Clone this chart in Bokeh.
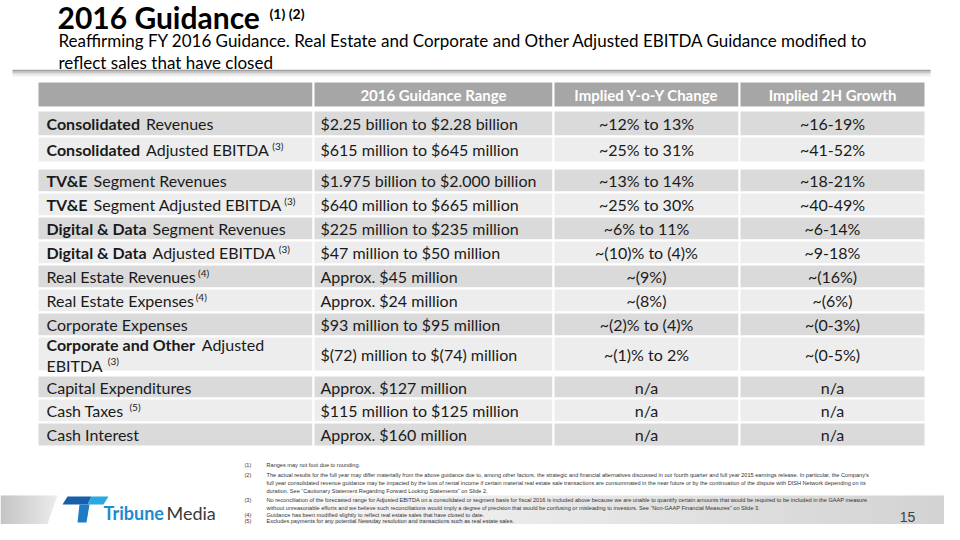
from bokeh.plotting import figure
from bokeh.models import Range1d
from bokeh.core.properties import value
from bokeh.embed import file_html
from bokeh.resources import INLINE

# ---------------- data ----------------
title = "2016 Guidance"
title_notes = "(1) (2)"
subtitle_lines = [
    "Reaffirming FY 2016 Guidance. Real Estate and Corporate and Other Adjusted EBITDA Guidance modified to",
    "reflect sales that have closed",
]
headers = ["2016 Guidance Range", "Implied Y-o-Y Change", "Implied 2H Growth"]
label_bold = ["Consolidated", "Consolidated", "TV&E", "TV&E", "Digital & Data", "Digital & Data",
              "", "", "", "Corporate and Other", "", "", ""]
label_rest = ["Revenues", "Adjusted EBITDA", "Segment Revenues", "Segment Adjusted EBITDA",
              "Segment Revenues", "Adjusted EBITDA", "Real Estate Revenues", "Real Estate Expenses",
              "Corporate Expenses", "Adjusted", "Capital Expenditures", "Cash Taxes", "Cash Interest"]
label_line2 = ["", "", "", "", "", "", "", "", "", "EBITDA", "", "", ""]
label_note = ["", "(3)", "", "(3)", "", "(3)", "(4)", "(4)", "", "(3)", "", "(5)", ""]
guidance_range = ["$2.25 billion to $2.28 billion", "$615 million to $645 million",
                  "$1.975 billion to $2.000 billion", "$640 million to $665 million",
                  "$225 million to $235 million", "$47 million to $50 million",
                  "Approx. $45 million", "Approx. $24 million", "$93 million to $95 million",
                  "$(72) million to $(74) million", "Approx. $127 million",
                  "$115 million to $125 million", "Approx. $160 million"]
yoy_change = ["~12% to 13%", "~25% to 31%", "~13% to 14%", "~25% to 30%", "~6% to 11%",
              "~(10)% to (4)%", "~(9%)", "~(8%)", "~(2)% to (4)%", "~(1)% to 2%", "n/a", "n/a", "n/a"]
growth_2h = ["~16-19%", "~41-52%", "~18-21%", "~40-49%", "~6-14%", "~9-18%", "~(16%)", "~(6%)",
             "~(0-3%)", "~(0-5%)", "n/a", "n/a", "n/a"]
footnote_ids = ["(1)", "(2)", "", "", "(3)", "", "(4)", "(5)"]
footnote_lines = [
    "Ranges may not foot due to rounding.",
    "The actual results for the full year may differ materially from the above guidance due to, among other factors, the strategic and financial alternatives discussed in our fourth quarter and full year 2015 earnings release.  In particular, the Company\u2019s",
    "full year consolidated revenue guidance may be impacted by the loss of rental income if certain material real estate sale transactions are consummated in the near future or by the continuation of the dispute with DISH Network depending on its",
    "duration.  See \u201cCautionary Statement Regarding Forward Looking Statements\u201d on Slide 2.",
    "No reconciliation of the forecasted range for Adjusted EBITDA on a consolidated or segment basis for fiscal 2016 is included above because we are unable to quantify certain amounts that would be required to be included in the GAAP measure",
    "without unreasonable efforts and we believe such reconciliations would imply a degree of precision that would be confusing or misleading to investors. See \u201cNon-GAAP Financial Measures\u201d on Slide 3.",
    "Guidance has been modified slightly to reflect real estate sales that have closed to date.",
    "Excludes payments for any potential Newsday resolution and transactions such as real estate sales.",
]
page_number = "15"
logo_words = ["Tribune", "Media"]

# ---------------- layout / style ----------------
FONT = "Lato"
COL_EDGES = [37, 313, 553, 739, 925]
HEADER_Y = (81, 107)
ROW_Y = [(110, 136), (136, 162), (168, 192), (192, 216), (216, 240), (240, 264), (264, 288),
         (288, 312), (312, 336), (336, 371), (375, 398), (398, 422), (422, 446)]
FN_Y = [464, 474.5, 482.5, 490.5, 499.5, 507.5, 514, 520]
DARK_ROW, LIGHT_ROW, HEAD = "#dadada", "#ededed", "#a6a6a6"
TXT = "#1a1a1a"

CW = {}
for chs, c in [("il.,:;'|!j", 0.23), ("I", 0.28), (" ", 0.2), ("f", 0.32), ("t", 0.36), ("r", 0.37),
               ("()-", 0.33), ("s", 0.41), ("cz", 0.45), ("eavxyk", 0.51), ("m", 0.82), ("w", 0.77),
               ("0123456789$~", 0.58), ("%", 0.8), ("E", 0.57), ("L", 0.5), ("F", 0.54), ("T", 0.58),
               ("S", 0.53), ("MW", 0.9), ("D", 0.74), ("O", 0.78), ("G", 0.72), ("C", 0.68),
               ("&", 0.7), ("A", 0.7), ("B", 0.65), ("R", 0.62), ("P", 0.6), ("V", 0.68), ("NH", 0.76)]:
    for ch in chs:
        CW[ch] = c


def tw(s, size, bold=False):
    w = sum(CW.get(ch, 0.65 if ch.isupper() else 0.55) for ch in s)
    return w * size * (1.04 if bold else 1.0)


p = figure(width=944, height=524, x_range=Range1d(0, 944), y_range=Range1d(524, 0),
           output_backend="svg", toolbar_location=None, min_border=0,
           x_axis_location=None, y_axis_location=None)
p.grid.visible = False
p.outline_line_color = None
p.background_fill_color = "white"
p.border_fill_color = "white"


# ---- bottom grey band (gradient strips) ----
def band(x0_top, x0_bot, x1, y0, y1, c0, c1, n=40):
    xs, ys, cols = [], [], []

    def hexc(t):
        r = [int(c0[i:i + 2], 16) * (1 - t) + int(c1[i:i + 2], 16) * t for i in (1, 3, 5)]
        return "#%02x%02x%02x" % tuple(int(v) for v in r)
    for k in range(n):
        a, b = k / n, (k + 1) / n
        xt0, xt1 = x0_top + (x1 - x0_top) * a, x0_top + (x1 - x0_top) * b
        xb0, xb1 = x0_bot + (x1 - x0_bot) * a, x0_bot + (x1 - x0_bot) * b
        xs.append([xt0, xt1 + 0.6, xb1 + 0.6, xb0])
        ys.append([y0, y0, y1, y1])
        cols.append(hexc((a + b) / 2))
    p.patches(xs, ys, fill_color=cols, line_color=None)


band(305, 289, 960, 495, 540, "#f7f7f7", "#d2d2d2", n=60)
band(0, 0, 57, 495, 540, "#c4c4c4", "#ededed", n=20)
p.patch([57, 60, 60, 41], [495, 495, 540, 540], fill_color="white", line_color=None)

# ---- title ----
p.text(x=[57], y=[16], text=[title], text_font=value(FONT), text_font_style="bold",
       text_font_size="30px", text_color="black", text_baseline="middle")
p.text(x=[269], y=[13], text=[title_notes], text_font=value(FONT),
       text_font_style="bold", text_font_size="14px", text_color="black", text_baseline="middle")
p.text(x=[58, 58], y=[40, 62], text=subtitle_lines, text_font=value(FONT),
       text_font_size="17px", text_color="black", text_baseline="middle")
# rule with shadow
for yy, cc, ww in [(75, "#f0f0f0", 2), (73, "#dcdcdc", 2), (71.5, "#bdbdbd", 1.5), (70, "#a0a0a0", 1.5)]:
    p.line([12, 930], [yy, yy], line_color=cc, line_width=ww)

# ---- table cells ----
L, R, T, B, C = [], [], [], [], []
for j in range(4):
    L.append(COL_EDGES[j]); R.append(COL_EDGES[j + 1]); T.append(HEADER_Y[0]); B.append(HEADER_Y[1]); C.append(HEAD)
for i, (y0, y1) in enumerate(ROW_Y):
    for j in range(4):
        L.append(COL_EDGES[j]); R.append(COL_EDGES[j + 1]); T.append(y0); B.append(y1)
        C.append(DARK_ROW if i % 2 == 0 else LIGHT_ROW)
p.quad(left=L, right=R, top=T, bottom=B, fill_color=C, line_color="white", line_width=2)

# header text
hx = [(COL_EDGES[j] + COL_EDGES[j + 1]) / 2 for j in (1, 2, 3)]
hy = (HEADER_Y[0] + HEADER_Y[1]) / 2
p.text(x=hx, y=[hy] * 3, text=headers, text_font=value(FONT), text_font_style="bold",
       text_font_size="15px", text_color="white", text_align="center", text_baseline="middle")

FS = 16
centers = [(a + b) / 2 for a, b in ROW_Y]
bx, by, bt = [], [], []
rx, ry, rt = [], [], []
sx, sy, st = [], [], []
x0 = COL_EDGES[0] + 9
for i in range(len(ROW_Y)):
    two = label_line2[i] != ""
    yl = centers[i] - 10 if two else centers[i]
    xcur = x0
    if label_bold[i]:
        bx.append(xcur); by.append(yl); bt.append(label_bold[i])
        xcur += tw(label_bold[i], FS, True) + 5
    rx.append(xcur); ry.append(yl); rt.append(label_rest[i])
    xcur += tw(label_rest[i], FS)
    if two:
        rx.append(x0); ry.append(centers[i] + 11); rt.append(label_line2[i])
        xcur = x0 + tw(label_line2[i], FS)
        yl = centers[i] + 11
    if label_note[i]:
        sx.append(xcur + 5); sy.append(yl - 4); st.append(label_note[i])

common = dict(text_font=value(FONT), text_font_size=f"{FS}px", text_color=TXT, text_baseline="middle")
p.text(x=bx, y=by, text=bt, text_font_style="bold", **common)
p.text(x=rx, y=ry, text=rt, **common)
p.text(x=sx, y=sy, text=st, text_font=value(FONT), text_font_size="10px", text_color=TXT,
       text_baseline="middle")
p.text(x=[COL_EDGES[1] + 7] * len(ROW_Y), y=centers, text=guidance_range, **common)
p.text(x=[hx[1]] * len(ROW_Y), y=centers, text=yoy_change, text_align="center", **common)
p.text(x=[hx[2]] * len(ROW_Y), y=centers, text=growth_2h, text_align="center", **common)

# ---- footnotes ----
fid_x, fid_y, fid_t = [], [], []
for k, t in enumerate(footnote_ids):
    if t:
        fid_x.append(244); fid_y.append(FN_Y[k]); fid_t.append(t)
fn = dict(text_font=value("Liberation Sans"), text_font_size="5.6px", text_color="#333333",
          text_baseline="middle")
p.text(x=fid_x, y=fid_y, text=fid_t, **fn)
p.text(x=[266] * len(footnote_lines), y=FN_Y, text=footnote_lines, **fn)

# ---- page number ----
p.text(x=[907], y=[516], text=[page_number], text_font=value("Liberation Sans"), text_font_size="14px",
       text_color="#404040", text_align="center", text_baseline="middle")

# ---- logo ----
p.patch([62, 67, 91, 87], [504, 496, 496, 504], fill_color="#1760a9", line_color=None)
p.patch([87, 91, 108, 103], [504, 496, 496, 504], fill_color="#2aa8e0", line_color=None)
p.patch([79, 89, 86, 77], [504, 504, 522, 522], fill_color="#1d7cc5", line_color=None)
p.text(x=[103], y=[512], text=[logo_words[0]], text_font=value(FONT), text_font_style="bold",
       text_font_size="18px", text_color="#1c8bd0", text_baseline="middle")
p.text(x=[103 + tw(logo_words[0], 18, True) + 0.5], y=[512], text=[logo_words[1]], text_font=value(FONT),
       text_font_size="18px", text_color="#3a3a3a", text_baseline="middle")

open("out.html", "w").write(file_html(p, INLINE))
